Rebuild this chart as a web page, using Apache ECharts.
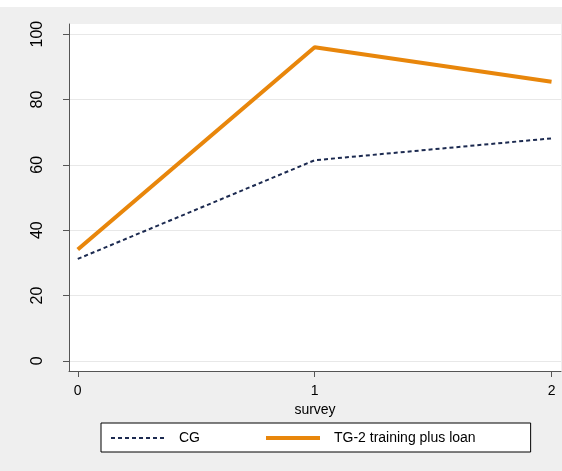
<!DOCTYPE html>
<html>
<head>
<meta charset="utf-8">
<script src="https://cdn.jsdelivr.net/npm/echarts@6/dist/echarts.min.js"></script>
<style>
html,body{margin:0;padding:0;background:#fff;}
#c{width:562px;height:471px;}
</style>
</head>
<body>
<div id="c"></div>
<script>
const surveys = [0, 1, 2];
const cgValues = [31.2, 61.4, 68.1];
const tgValues = [34.1, 96.0, 85.4];
const yTicks = [0, 20, 40, 60, 80, 100];
const xTicks = [0, 1, 2];
const seriesNames = ['CG', 'TG-2 training plus loan'];

const chart = echarts.init(document.getElementById('c'), null, {renderer: 'canvas'});
const font = 'Liberation Sans, Arial, sans-serif';
chart.setOption({
  backgroundColor: '#efefef',
  animation: false,
  graphic: [{type: 'rect', shape: {x: 0, y: 0, width: 562, height: 7}, style: {fill: '#ffffff'}, z: -1}],
  grid: {left: 69, top: 24, right: 1, bottom: 100, backgroundColor: '#ffffff', show: true, borderWidth: 0},
  xAxis: {
    type: 'value', min: -0.037, max: 2.04,
    name: 'survey', nameLocation: 'middle', nameGap: 31,
    nameTextStyle: {fontFamily: font, fontSize: 14, color: '#000'},
    axisLine: {show: true, onZero: false, lineStyle: {color: '#555', width: 1}},
    axisTick: {show: true, length: 6, lineStyle: {color: '#555'}, customValues: xTicks},
    axisLabel: {customValues: xTicks, fontFamily: font, fontSize: 14, color: '#000', margin: 13},
    splitLine: {show: false}
  },
  yAxis: {
    type: 'value', min: -3.1, max: 103.1,
    axisLine: {show: true, onZero: false, lineStyle: {color: '#555', width: 1}},
    axisTick: {show: true, length: 6, lineStyle: {color: '#555'}, customValues: yTicks},
    axisLabel: {customValues: yTicks, rotate: 90, fontFamily: font, fontSize: 16, color: '#000', margin: 23},
    splitLine: {show: true, lineStyle: {color: '#e8e8e8', width: 1}}
  },
  legend: {
    left: 101, top: 423,
    orient: 'horizontal',
    backgroundColor: '#ffffff', borderColor: '#000', borderWidth: 1, borderRadius: 0,
    padding: [8, 55, 7, 9],
    itemWidth: 54, itemHeight: 10, itemGap: 64,
    itemStyle: {opacity: 0},
    textStyle: {fontFamily: font, fontSize: 14, color: '#000', padding: [0, 0, 0, 9]},
    data: [
      {name: seriesNames[0], lineStyle: {width: 2, type: [4, 3], color: '#1c2a50'}},
      {name: seriesNames[1], lineStyle: {width: 4, color: '#e8860b'}}
    ]
  },
  series: [
    {
      name: seriesNames[0], type: 'line', symbol: 'none',
      data: surveys.map((s, i) => [s, cgValues[i]]),
      lineStyle: {color: '#1c2a50', width: 2, type: [4, 3]},
      itemStyle: {color: '#1c2a50'}
    },
    {
      name: seriesNames[1], type: 'line', symbol: 'none',
      data: surveys.map((s, i) => [s, tgValues[i]]),
      lineStyle: {color: '#e8860b', width: 4},
      itemStyle: {color: '#e8860b'}
    }
  ]
});
</script>
</body>
</html>
